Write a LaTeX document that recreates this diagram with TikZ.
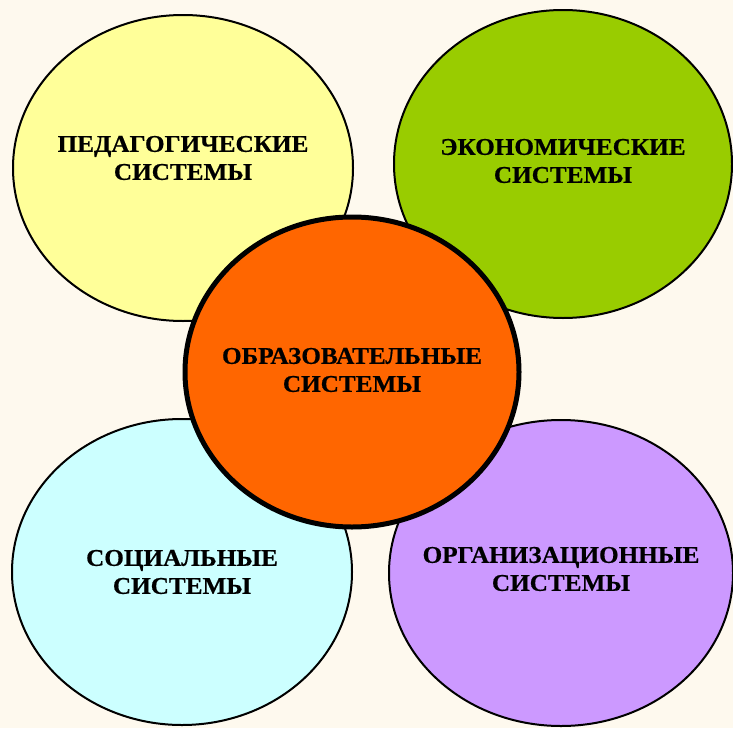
\documentclass[tikz,border=0pt]{standalone}
\usepackage{fontspec}
\setmainfont{Liberation Serif}[FakeStretch=1.05,BoldFeatures={FakeBold=0.6}]
\usetikzlibrary{shapes.geometric}

\definecolor{bgcream}{HTML}{FEF9EE}
\definecolor{pedyellow}{HTML}{FFFF99}
\definecolor{ecogreen}{HTML}{99CC00}
\definecolor{soccyan}{HTML}{CCFFFF}
\definecolor{orgviolet}{HTML}{CC99FF}
\definecolor{eduorange}{HTML}{FF6600}

\begin{document}
\begin{tikzpicture}[x=1pt,y=-1pt]

\tikzset{sys/.style = {shape=ellipse,draw,line width=2pt,inner sep=0pt}}
\tikzset{txt/.style = {align=center,font=\bfseries\fontsize{24}{28}\selectfont}}
%background
\fill[bgcream] (0,0) rectangle (733,728);
\useasboundingbox (0,0) rectangle (733,728);
%outer systems
\node[sys, fill=pedyellow, minimum width=340pt, minimum height=306pt] (ped) at (183,168) {};
\node[sys, fill=ecogreen, minimum width=338pt, minimum height=308pt] (eco) at (563,164) {};
\node[sys, fill=soccyan, minimum width=340pt, minimum height=306pt] (soc) at (182,572) {};
\node[sys, fill=orgviolet, minimum width=344pt, minimum height=306pt] (org) at (561,573) {};
%central system
\node[sys, fill=eduorange, line width=5pt, minimum width=334pt, minimum height=310pt] (edu) at (352,372) {};
%labels
\node[txt] (pedtxt) at ([yshift=10pt]ped.center) {ПЕДАГОГИЧЕСКИЕ\\СИСТЕМЫ};
\node[txt] (ecotxt) at ([yshift=3pt]eco.center) {ЭКОНОМИЧЕСКИЕ\\СИСТЕМЫ};
\node[txt] (edutxt) at ([yshift=2pt]edu.center) {ОБРАЗОВАТЕЛЬНЫЕ\\СИСТЕМЫ};
\node[txt] (soctxt) at (soc.center) {СОЦИАЛЬНЫЕ\\СИСТЕМЫ};
\node[txt] (orgtxt) at ([yshift=4pt]org.center) {ОРГАНИЗАЦИОННЫЕ\\СИСТЕМЫ};

\end{tikzpicture}
\end{document}
